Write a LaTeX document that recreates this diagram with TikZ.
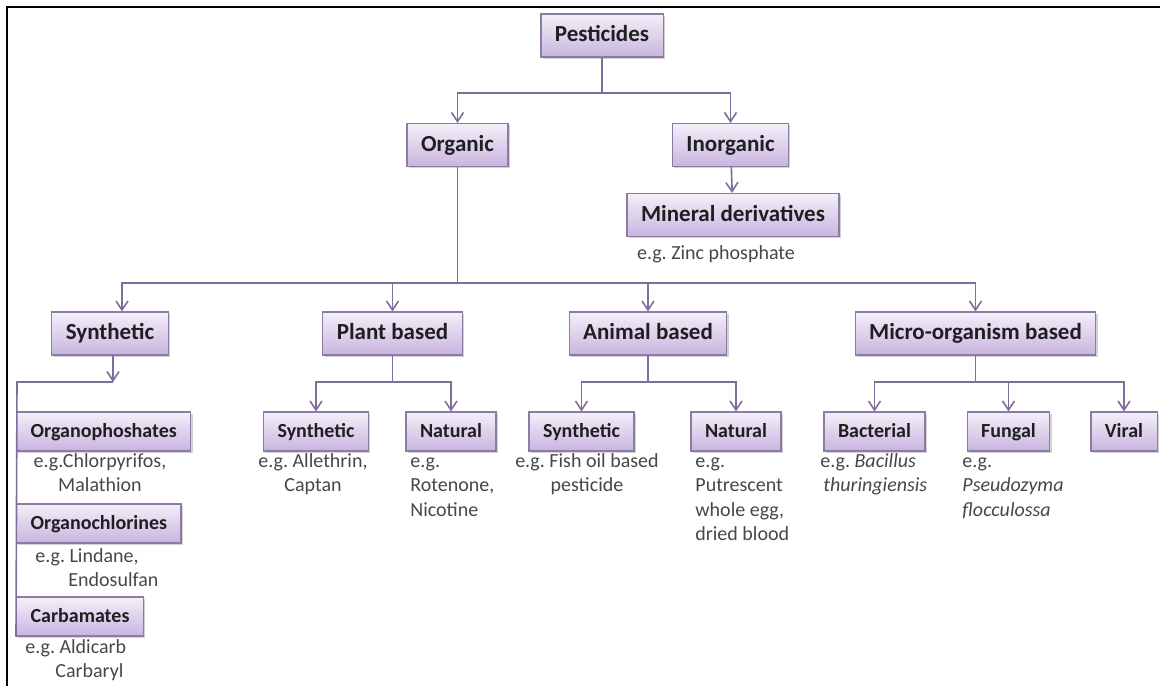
\documentclass[tikz,border=0pt]{standalone}
\usepackage{fontspec}
\setmainfont{Carlito}
\usepackage{tikz}
\usetikzlibrary{arrows.meta,shadows}
\frenchspacing

\definecolor{boxtop}{HTML}{F4F0F9}
\definecolor{boxbot}{HTML}{C8B4DF}
\definecolor{boxline}{HTML}{8A7CA5}
\definecolor{connline}{HTML}{7D6E9C}

\tikzset{
  catbox/.style={draw=boxline, line width=0.6pt, top color=boxtop, bottom color=boxbot,
    font=\bfseries\fontsize{11.5}{13}\selectfont, text=black!88,
    inner xsep=7pt, minimum height=21.5pt, text height=0.78em, text depth=0.16em,
    drop shadow={shadow xshift=0.9pt, shadow yshift=-0.9pt, opacity=0.35}},
  subbox/.style={catbox, font=\bfseries\fontsize{10}{12}\selectfont, minimum height=19.5pt},
  egtext/.style={font=\fontsize{10}{12.25}\selectfont, text=black!72, inner sep=0pt},
  conn/.style={draw=connline, line width=0.8pt},
  arr/.style={conn, -{Straight Barb[length=4.5pt,width=6pt]}}
}

\begin{document}
\begin{tikzpicture}[x=0.5pt, y=-0.5pt]
  \useasboundingbox (0,0) rectangle (1160,686);
  \draw[line width=1.3pt] (7,686) -- (7,7) -- (1160,7);

  % top levels
  \node[catbox] (pest) at (602,35.5) {Pesticides};
  \node[catbox] (org) at (457.5,145) {Organic};
  \node[catbox] (inorg) at (730.5,145) {Inorganic};
  \node[catbox] (mineral) at (733,215) {Mineral derivatives};
  \node[egtext, anchor=base] (zinc) at (716,259) {e.g. Zinc phosphate};

  \node[catbox] (syn) at (110,333.5) {Synthetic};
  \node[catbox] (plant) at (392.5,333.5) {Plant based};
  \node[catbox] (animal) at (648,333.5) {Animal based};
  \node[catbox] (micro) at (975.5,333.5) {Micro-organism based};

  % synthetic (anchors at the baseline of the last line)
  \node[subbox, anchor=west] (ophos) at (16,431.5) {Organophoshates};
  \node[egtext, align=center, anchor=base] (ophosx) at (100,491.5) {e.g.Chlorpyrifos,\\Malathion};
  \node[subbox, anchor=west] (ochl) at (16,523.5) {Organochlorines};
  \node[egtext, align=left, anchor=base west] (ochlx) at (35,586.5) {e.g. Lindane,\\\hspace*{16.5pt}Endosulfan};
  \node[subbox, anchor=west] (carb) at (16,616.5) {Carbamates};
  \node[egtext, align=left, anchor=base west] (carbx) at (25,677.5) {e.g. Aldicarb\\\hspace*{15pt}Carbaryl};

  % plant based
  \node[subbox] (psyn) at (316,431.5) {Synthetic};
  \node[egtext, align=center, anchor=base] (psynx) at (313,491.5) {e.g. Allethrin,\\Captan};
  \node[subbox] (pnat) at (451,431.5) {Natural};
  \node[egtext, align=left, anchor=base west] (pnatx) at (410,516) {e.g.\\Rotenone,\\Nicotine};

  % animal based
  \node[subbox] (asyn) at (581.5,431.5) {Synthetic};
  \node[egtext, align=center, anchor=base] (asynx) at (587,491.5) {e.g. Fish oil based\\pesticide};
  \node[subbox] (anat) at (736,431.5) {Natural};
  \node[egtext, align=left, anchor=base west] (anatx) at (695,540.5) {e.g.\\Putrescent\\whole egg,\\dried blood};

  % micro-organism based
  \node[subbox] (bact) at (874.5,431.5) {Bacterial};
  \node[egtext, align=left, anchor=base west] (bactx) at (820,491.5) {e.g. \textit{Bacillus}\\\hspace*{1.5pt}\textit{thuringiensis}};
  \node[subbox] (fung) at (1008.5,431.5) {Fungal};
  \node[egtext, align=left, anchor=base west] (fungx) at (962,516) {e.g.\\\textit{Pseudozyma}\\\textit{flocculossa}};
  \node[subbox] (viral) at (1124,431.5) {Viral};

  % connectors
  \coordinate (j1) at (602,93);
  \coordinate (j2) at (457.5,283);
  \coordinate (j3) at (113,382);
  \coordinate (l1) at (17,382);
  \coordinate (j4) at (392.5,382);
  \coordinate (j5) at (648,382);
  \coordinate (j6) at (975.5,382);

  \draw[conn] (pest) -- (j1);
  \draw[arr] (j1) -| (org);
  \draw[arr] (j1) -| (inorg);
  \draw[arr] (inorg) -- (mineral);

  \draw[conn] (org) -- (j2);
  \draw[arr] (j2) -| ([xshift=6pt]syn.north);
  \draw[arr] (j2) -| (plant);
  \draw[arr] (j2) -| (animal);
  \draw[arr] (j2) -| (micro);

  \draw[arr] (syn.south -| j3) -- (j3);
  \draw[conn] (j3) -- (l1) -- (carb.south west);

  \draw[conn] (plant) -- (j4);
  \draw[arr] (j4) -| (psyn);
  \draw[arr] (j4) -| (pnat);

  \draw[conn] (animal) -- (j5);
  \draw[arr] (j5) -| (asyn);
  \draw[arr] (j5) -| (anat);

  \draw[conn] (micro) -- (j6);
  \draw[arr] (j6) -| (bact);
  \draw[arr] (j6) -| (fung);
  \draw[arr] (j6) -| (viral);
\end{tikzpicture}
\end{document}
